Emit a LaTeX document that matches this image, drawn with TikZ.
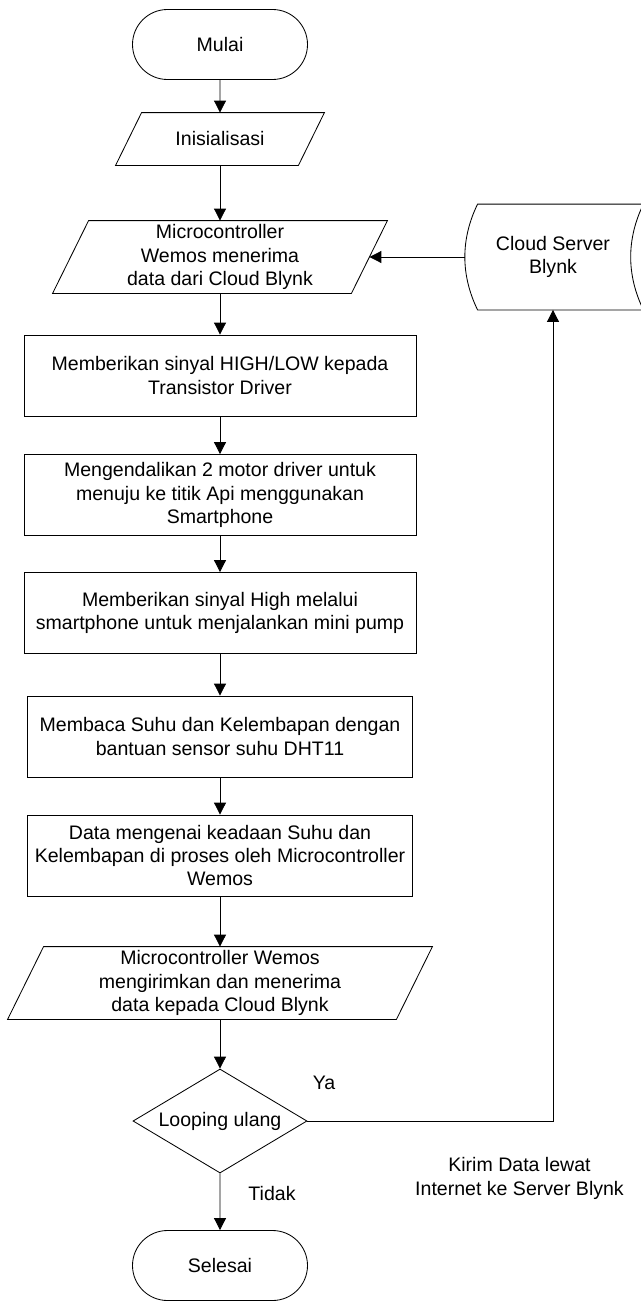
\documentclass[tikz,border=0pt]{standalone}
\usepackage{fontspec}
\setmainfont{Liberation Sans}
\usepackage{tikz}
\usetikzlibrary{arrows.meta,calc,positioning,shapes.geometric,shapes.misc}

\def\px{0.025cm}

\begin{document}
\begin{tikzpicture} [x=0.025cm,y=-0.025cm,line width=0.6pt,
	every node/.style={font=\fontsize{13.9}{16.6}\selectfont,align=center,inner sep=0pt},
	>={Triangle[length=8.5pt,width=8.5pt]},
	terminal/.style={draw,rounded rectangle,minimum width=175*\px,minimum height=70*\px},
	proses/.style={draw,rectangle,minimum width=#1*\px,minimum height=81*\px},
	iobox/.style={rectangle,minimum width=#1*\px}]

\useasboundingbox (0,0) rectangle (640,1301);

% main column
\node[terminal] (mulai) at (220,44.5) {Mulai};
\node[iobox=182,minimum height=52*\px] (init) at (220,139) {Inisialisasi};
\node[iobox=298,minimum height=72*\px] (micro) at (220,257) {Microcontroller\\Wemos menerima\\data dari Cloud Blynk};
\node[proses=392] (hilo) at (220,375.5) {Memberikan sinyal HIGH/LOW kepada\\Transistor Driver};
\node[proses=392] (motor) at (220,495) {Mengendalikan 2 motor driver untuk\\menuju ke titik Api menggunakan\\Smartphone};
\node[proses=392] (pump) at (220,613) {Memberikan sinyal High melalui\\smartphone untuk menjalankan mini pump};
\node[proses=385] (baca) at (220,736.5) {Membaca Suhu dan Kelembapan dengan\\bantuan sensor suhu DHT11};
\node[proses=385] (olah) at (220,855.5) {Data mengenai keadaan Suhu dan\\Kelembapan di proses oleh Microcontroller\\Wemos};
\node[iobox=388,minimum height=72*\px] (kirim) at (220,983) {Microcontroller Wemos\\mengirimkan dan menerima\\data kepada Cloud Blynk};
\node[draw,diamond,aspect=1.67,minimum width=174*\px,minimum height=104*\px] (loop) at (220,1121) {Looping ulang};
\node[terminal] (selesai) at (220,1265.5) {Selesai};

% server
\node[rectangle,minimum width=176*\px,minimum height=105*\px] (cloud) at (553,257) {Cloud Server\\Blynk};

% labels
\node (ya) at (324,1083) {Ya};
\node (tidak) at (272,1193) {Tidak};
\node (ket) at (519.5,1178.5) {Kirim Data lewat\\Internet ke Server Blynk};

% the input/output boxes
\foreach \n/\s in {init/13,micro/18,kirim/18}
\draw ($(\n.north west)+(\s,0)$) -- ($(\n.north east)+(\s,0)$) -- ($(\n.south east)-(\s,0)$) -- ($(\n.south west)-(\s,0)$) -- cycle;

% the stored data shape
\draw ($(cloud.north west)+(13,0)$) -- ($(cloud.north east)+(2,0)$)
	.. controls +(-17,35) and +(-17,-35) .. ($(cloud.south east)+(2,0)$)
	-- ($(cloud.south west)+(13,0)$)
	.. controls +(-17,-35) and +(-17,35) .. ($(cloud.north west)+(13,0)$) -- cycle;

% connectors
\foreach \a/\b in {mulai/init,init/micro,micro/hilo,hilo/motor,motor/pump,pump/baca,baca/olah,olah/kirim,kirim/loop,loop/selesai}
\draw [->] (\a) -- (\b);

\draw [->] (cloud.west) -- (micro.east);
\draw [->] (loop.east) -| (cloud.south);

\end{tikzpicture}
\end{document}
